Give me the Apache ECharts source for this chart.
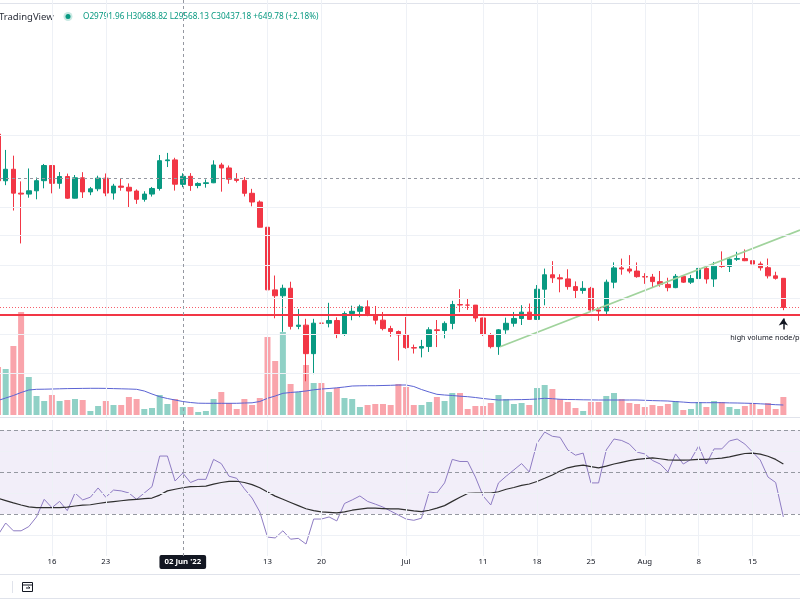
<!DOCTYPE html>
<html><head><meta charset="utf-8">
<script src="https://cdn.jsdelivr.net/npm/echarts@6/dist/echarts.min.js"></script>
<style>html,body{margin:0;padding:0;background:#fff}#c{width:800px;height:600px}</style>
</head><body><div id="c"></div>
<script>
// Daily BTC candles, first candle = 2022-05-09 (index 0), last = 2022-08-19 (index 102)
// [open, close, low, high]
const candles = [
 [34060,30080,30030,34244],[30080,31017,29730,32658],[31017,29103,27785,32162],[29103,29030,25450,30032],
 [29030,29287,28751,31083],[29287,30087,28630,30343],[30087,31329,29480,31460],[31329,29874,29087,31329],
 [29874,30425,29450,30788],[30425,28715,28654,30660],[28715,30319,28693,30545],[30319,29201,28730,30777],
 [29201,29445,28947,29588],[29445,30293,29255,30487],[30293,29110,28866,30670],[29110,29655,28607,29835],
 [29655,29563,29294,30223],[29563,29268,28019,29869],[29268,28627,28282,29397],[28627,29031,28450,29250],
 [29031,29468,28839,29587],[29468,31734,29299,32222],[31734,31801,31200,32399],[31801,29805,29301,31982],
 [29792,30437,29568,30689],[30437,29700,29282,30700],[29700,29864,29485,29955],[29864,29920,29531,30189],
 [29920,31373,29890,31765],[31373,31125,29219,31556],[31125,30204,29843,31330],[30204,30110,29944,30700],
 [30110,29092,28850,30384],[29092,28424,28100,29440],[28424,26574,26560,28544],[26574,22487,21925,26895],
 [22486,22136,20846,23363],[22136,22583,20111,22800],[22583,20401,20232,22980],[20401,20468,20246,21365],
 [20468,18970,17622,20818],[18970,20574,17961,20815],[20574,20573,19637,21090],[20573,20723,20348,21723],
 [20723,19987,19770,20900],[19987,21110,19890,21233],[21110,21237,20736,21558],[21237,21491,20906,21614],
 [21491,21038,20960,21868],[21038,20742,20510,21540],[20742,20281,20183,21200],[20281,20123,19848,20432],
 [20123,19942,18626,20179],[19942,19279,19216,20918],[19279,19252,18975,19434],[19252,19332,18781,19680],
 [19332,20215,19055,20354],[20215,20175,19305,20750],[20175,20564,19761,20675],[20564,21624,20245,21838],
 [21624,21594,21189,22527],[21594,21591,21316,21956],[21591,20862,20655,21599],[20862,19963,19890,20879],
 [19963,19328,19237,20041],[19328,20212,18910,20255],[20212,20569,19999,20880],[20569,20836,20383,21200],
 [20836,21190,20475,21588],[21190,20785,20750,21683],[20785,22525,20763,22777],[22525,23410,21582,23800],
 [23410,23223,22906,24276],[23223,23153,22341,23442],[23153,22684,22500,23756],[22684,22452,21950,22998],
 [22452,22579,22257,23014],[22579,21310,21250,22666],[21310,21254,20706,21347],[21254,22952,21042,23112],
 [22952,23843,22582,24199],[23843,23774,23414,24442],[23774,23643,23502,24668],[23643,23293,23227,24194],
 [23296,23268,22850,23509],[23266,22987,22654,23463],[22985,22818,22681,23647],[22816,22622,22400,23226],
 [22622,23312,22586,23456],[23313,22954,22909,23354],[22954,23175,22844,23400],[23175,23810,23154,24245],
 [23810,23149,22865,23933],[23150,23954,22664,24226],[23954,23934,23852,24918],[23934,24403,23583,24456],
 [24401,24441,24296,24888],[24442,24305,24276,25047],[24305,24094,23773,25211],[24094,23854,23671,24247],
 [23856,23342,23180,24446],[23342,23191,23111,23600],[23191,21455,21300,23208]
];
// Volume (thousands)
const volumes = [48,46,69,103,38,19,14,20,14,15,16,15,4,9,14,10,10,18,16,6,
 7,20,11,16,8,8,3,4,16,23,12,6,16,10,17,78,54,83,31,23,
 50,32,32,23,27,17,16,8,10,11,11,10,31,28,10,10,13,18,14,22,
 22,6,9,9,12,20,16,11,12,10,27,30,26,16,13,7,4,13,13,19,
 22,16,12,11,8,10,9,11,14,5,6,13,8,14,13,8,6,9,12,6,12,6,18];
const volumeMA = [14.5,17,19.5,22.5,25,25.7,25.8,26,26.2,26.4,
 26.5,26.6,26.7,26.7,26.6,26.4,26.2,26,25.7,24,
 21,18.3,16.5,15,13.5,12.5,11.8,11.7,11.7,11.7,
 11.7,11.7,12,12.2,13.5,16.7,19,21.7,22.5,23.2,
 24,25.2,26,26.5,27.2,28,29,29.2,29.3,29.3,
 29.5,29.7,30,30,28.5,25.5,23,20.7,20,19.5,
 18.8,18.3,17.5,16.5,15.7,15,15.1,15.3,15.4,15.6,
 16,16.7,16.3,15.7,15.5,15.4,15.2,15.1,15,15,
 15,15,15,15,14.7,14.4,14.2,14,13.4,12.9,
 12.3,12.3,12.3,12.3,12.3,12.1,12,11.8,11.6,11.2,
 10.8,10.3,10];
const rsi = [20,25.7,22,22,24,28.6,37,33,36,31.6,
 40,36.7,38,42.4,38,41.4,41,40,37,40,
 43,57.6,57.6,45.7,49.5,45,46.5,46.5,56,54,
 48,47,42,37.6,31,19,18.6,22,18,18.4,
 15.7,27.6,27.6,28.6,26.7,35,36.7,38.6,36,34.7,
 33.3,31.4,29.5,27.6,27,28,40.5,40,44.8,56,
 55,55,47.6,38.6,34.3,44.8,48,51,54,50,
 63.7,69,67,66.5,60.5,58,59,44.8,44.8,60.5,
 65.7,65,63.3,59.5,58.6,55.5,53.8,50,58.6,53.8,
 56,62.4,53.8,61,61,64.8,65.7,63.3,59.5,55.7,
 47.6,45,28.6];
const rsiMA = [37.5,36.4,35.3,34.3,33.4,33,33,33,33,33.3,
 33.8,34.2,34.4,35,35.5,35.9,36.3,36.7,37,37.3,
 37.6,39,41,41.8,42.5,43,43.1,43.3,44.2,45,
 45.5,45.6,45,44,42.5,40.5,38.5,37,35.5,34,
 32.5,31.6,31,30.8,30.5,31,31.8,32.3,32.8,32.8,
 32.6,32.4,32.4,32,31.5,31.1,31.8,32.8,34,36,
 38,39.8,40,40,40,40.6,41.8,42.6,43.6,44.3,
 45.5,47,48.6,50.5,52,52.8,53.3,52.6,52,52.8,
 53.8,54.6,55.4,56,56.4,56.7,56.3,55.8,55.7,55.7,
 55.8,56,56,56.3,56.6,57.2,58,58.8,59,58.5,
 57.5,56,53.8];
const tickDays = [0,7,14,24,35,42,53,63,70,77,84,91,98];
const tickLabels = ['9','16','23',"02 Jun '22",'13','20','Jul','11','18','25','Aug','8','15'];
const gridDays = [7,14,35,42,53,63,70,77,84,91,98];
const priceGridLevels = [18000,20000,22000,24000,26000,28000,34000];
const rsiGridLevels = [20,40,60];
const rsiBands = [70,50,30];
const hvnLevel = 21030;
const lastPrice = 21455;
const crosshairDay = 24;
const crosshairPrice = 30260;
const trendline = [[65.2,19320],[104.16,26380]];
const arrowFrom = [102,20232], arrowTo = [102,20835];
const noteAt = [95.1,19795];
const noteText = 'high volume node/poc';
const headerText = 'O29791.96 H30688.82 L29568.13 C30437.18 +649.78 (+2.18%)';

const FONT = '"Noto Sans", sans-serif';
const UP = '#089981', DOWN = '#f23645';
const X_MIN = 0.26, X_MAX = 104.16;
const faint = {color:'#eef1f6', width:1, type:'solid'};
const cross = {color:'#9598a1', width:1, type:[3,3]};

const chart = echarts.init(document.getElementById('c'));
const candleData = candles.map((c,i)=>[i,c[0],c[1],c[2],c[3]]);
const volData = volumes.map((v,i)=>({value:[i,v], itemStyle:{color: candles[i][1]>=candles[i][0] ? 'rgba(8,153,129,0.45)' : 'rgba(242,54,69,0.45)'}}));

const xBase = (g)=>({type:'value', gridIndex:g, min:X_MIN, max:X_MAX, axisLine:{show:false}, axisTick:{show:false}, axisLabel:{show:false}, splitLine:{show:false}});

chart.setOption({
  animation:false,
  grid:[
    {left:0,right:0,top:0,height:417},
    {left:0,right:0,top:300,height:115},
    {left:0,right:0,top:420,height:136}
  ],
  xAxis:[
    Object.assign(xBase(0),{axisLine:{show:true,onZero:false,lineStyle:{color:'#e0e3eb'}}}),
    xBase(1),
    Object.assign(xBase(2),{axisLabel:{show:true, customValues:tickDays, margin:1,
      formatter:(v)=>{const k=tickDays.indexOf(Math.round(v)); if(k<0) return ''; return Math.round(v)===crosshairDay ? '{hl|'+tickLabels[k]+'}' : '{n|'+tickLabels[k]+'}';},
      rich:{
        n:{fontFamily:FONT,fontSize:7.8,color:'#131722',lineHeight:10,padding:[3,0,3,0]},
        hl:{fontFamily:FONT,fontSize:7.8,fontWeight:'bold',color:'#ffffff',backgroundColor:'#131722',lineHeight:10,padding:[3,5,3,5],borderRadius:2}
      }}})
  ],
  yAxis:[
    {type:'log', gridIndex:0, min:16021, max:48711, show:false},
    {type:'value', gridIndex:1, min:0, max:115, show:false},
    {type:'value', gridIndex:2, min:10, max:74.76, show:false}
  ],
  graphic:[
    {type:'line', shape:{x1:0,y1:3.5,x2:800,y2:3.5}, style:{stroke:'#e0e3eb',lineWidth:1}, silent:true},
    {type:'line', shape:{x1:0,y1:574.5,x2:800,y2:574.5}, style:{stroke:'#e0e3eb',lineWidth:1}, silent:true},
    {type:'line', shape:{x1:0,y1:598.5,x2:800,y2:598.5}, style:{stroke:'#e0e3eb',lineWidth:1}, silent:true},
    {type:'line', shape:{x1:12.5,y1:581,x2:12.5,y2:593}, style:{stroke:'#e0e3eb',lineWidth:1}, silent:true},
    {type:'rect', shape:{x:22.5,y:582.5,width:10,height:9}, style:{fill:'none',stroke:'#131722',lineWidth:1}, silent:true},
    {type:'line', shape:{x1:22.5,y1:585,x2:32.5,y2:585}, style:{stroke:'#131722',lineWidth:1}, silent:true},
    {type:'polyline', shape:{points:[[26,588],[30,588],[28.5,586.5]]}, style:{fill:'none',stroke:'#131722',lineWidth:1}, silent:true},
    {type:'text', x:-1, y:17, style:{text:'TradingView', fontFamily:FONT, fontSize:9.5, fill:'#2a2e39', verticalAlign:'middle'}, silent:true},
    {type:'circle', shape:{cx:68,cy:16.5,r:4.5}, style:{fill:'rgba(8,153,129,0.22)'}, silent:true},
    {type:'circle', shape:{cx:68,cy:16.5,r:2.5}, style:{fill:UP}, silent:true},
    {type:'text', x:83, y:17, style:{text:headerText, fontFamily:FONT, fontSize:8.2, fill:UP, verticalAlign:'middle'}, silent:true}
  ],
  series:[
    {type:'line', xAxisIndex:0, yAxisIndex:0, data:[], z:0, silent:true,
      markLine:{silent:true, symbol:['none','none'], label:{show:false}, animation:false,
        data:[...gridDays.map(d=>({xAxis:d, lineStyle:faint})), ...priceGridLevels.map(p=>({yAxis:p, lineStyle:faint}))]}},
    {type:'bar', name:'Volume', xAxisIndex:1, yAxisIndex:1, data:volData, barWidth:6, z:1, silent:true},
    {type:'line', name:'Volume MA', xAxisIndex:1, yAxisIndex:1, data:volumeMA.map((v,i)=>[i,v]), showSymbol:false, lineStyle:{color:'#5b63d3',width:1}, z:2, silent:true},
    {type:'candlestick', name:'BTCUSD', xAxisIndex:0, yAxisIndex:0, data:candleData, encode:{x:0,y:[1,2,3,4]}, barWidth:5, z:3,
      itemStyle:{color:UP,color0:DOWN,borderColor:UP,borderColor0:DOWN,borderWidth:1},
      markLine:{silent:true, symbol:['none','none'], label:{show:false}, animation:false,
        data:[
          {yAxis:hvnLevel, lineStyle:{color:DOWN,width:2,type:'solid'}},
          {yAxis:lastPrice, lineStyle:{color:DOWN,width:1,type:[1,2],opacity:0.8}},
          {xAxis:crosshairDay, lineStyle:cross},
          {yAxis:crosshairPrice, lineStyle:cross}
        ]}},
    {type:'line', name:'Trend', xAxisIndex:0, yAxisIndex:0, data:trendline, showSymbol:false, lineStyle:{color:'#a0d39c',width:1.8}, z:4, silent:true,
      markLine:{silent:true, symbol:['none','arrow'], symbolSize:7, label:{show:false}, animation:false,
        data:[[{coord:arrowFrom},{coord:arrowTo}]], lineStyle:{color:'#131722',width:1.5,type:'solid'}},
      markPoint:{silent:true, symbol:'circle', symbolSize:0, animation:false,
        data:[{coord:noteAt, label:{show:true, position:'right', distance:0, formatter:noteText, fontFamily:FONT, fontSize:7.3, color:'#131722'}}]}},
    {type:'line', name:'RSI', xAxisIndex:2, yAxisIndex:2, data:rsi.map((v,i)=>[i,v]), showSymbol:false, lineStyle:{color:'#8e7cc3',width:1}, z:3, silent:true,
      markArea:{silent:true, itemStyle:{color:'rgba(126,87,194,0.1)'}, data:[[{yAxis:30},{yAxis:70}]]},
      markLine:{silent:true, symbol:['none','none'], label:{show:false}, animation:false,
        data:[...gridDays.map(d=>({xAxis:d, lineStyle:faint})), ...rsiGridLevels.map(v=>({yAxis:v, lineStyle:faint})),
              ...rsiBands.map(v=>({yAxis:v, lineStyle:{color:'#9598a1',width:1,type:[4,3]}})),
              {xAxis:crosshairDay, lineStyle:cross}]}},
    {type:'line', name:'RSI MA', xAxisIndex:2, yAxisIndex:2, data:rsiMA.map((v,i)=>[i,v]), showSymbol:false, lineStyle:{color:'#2f2f2f',width:1.2}, z:4, silent:true}
  ]
});
</script></body></html>
